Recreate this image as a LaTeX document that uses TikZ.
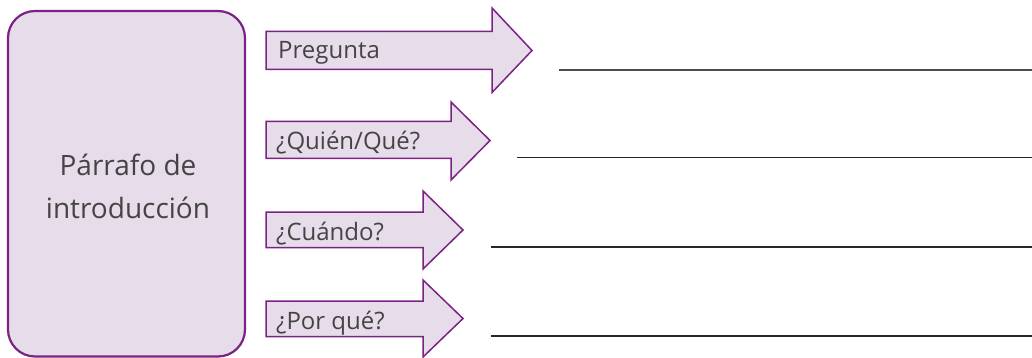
\documentclass[tikz,border=0pt]{standalone}
\usepackage{fontspec}
\setmainfont{Open Sans}
\definecolor{boxfill}{HTML}{E6DCEA}
\definecolor{boxline}{HTML}{7B2382}
\definecolor{txt}{HTML}{444444}
\begin{document}
\begin{tikzpicture}[x=1pt,y=-1pt,
  bigbox/.style={draw=boxline,fill=boxfill,line width=2.2pt,rounded corners=27pt},
  arrowshp/.style={draw=boxline,fill=boxfill,line width=1.5pt,line join=miter},
  lbl/.style={text=txt,font=\fontsize{24}{28}\selectfont,anchor=base west,inner sep=0pt},
  biglbl/.style={text=txt,font=\fontsize{28}{43}\selectfont,align=center,inner sep=0pt},
  answer/.style={line width=1.4pt,draw=black!85}]
\useasboundingbox (0,0) rectangle (1032,358);
\draw[bigbox] (8,11) rectangle (245,356.5);
\node[biglbl] (intro) at (128,186.5) {Párrafo de\\introducción};
% arrows
\newcommand{\arrowpath}[8]{%
  \draw[arrowshp] (266,#1) -- (#3,#1) -- (#3,#4) -- (#6,#7) -- (#3,#5) -- (#3,#2) -- (266,#2) -- cycle;}
\arrowpath{31.5}{69.5}{492}{8}{92.5}{532}{50.5}{}
\arrowpath{121.5}{158.5}{451}{102}{180}{490}{140.5}{}
\arrowpath{212}{247.5}{423}{191}{269}{463}{230}{}
\arrowpath{301}{336.5}{423}{280}{357}{463}{318.5}{}
\node[lbl] (q1) at (278,58.5) {Pregunta};
\node[lbl] (q2) at (276,149.5) {¿Quién/Qué?};
\node[lbl] (q3) at (276,240) {¿Cuándo?};
\node[lbl] (q4) at (276,329) {¿Por qué?};
% answer lines
\coordinate (a1s) at (559,70); \coordinate (a1e) at (1032,70);
\coordinate (a2s) at (517,157.5); \coordinate (a2e) at (1032,157.5);
\coordinate (a3s) at (491,247); \coordinate (a3e) at (1032,247);
\coordinate (a4s) at (491,336); \coordinate (a4e) at (1032,336);
\draw[answer,draw=black!70] (a1s) -- (a1e);
\draw[answer] (a2s) -- (a2e);
\draw[answer] (a3s) -- (a3e);
\draw[answer] (a4s) -- (a4e);
\end{tikzpicture}
\end{document}
